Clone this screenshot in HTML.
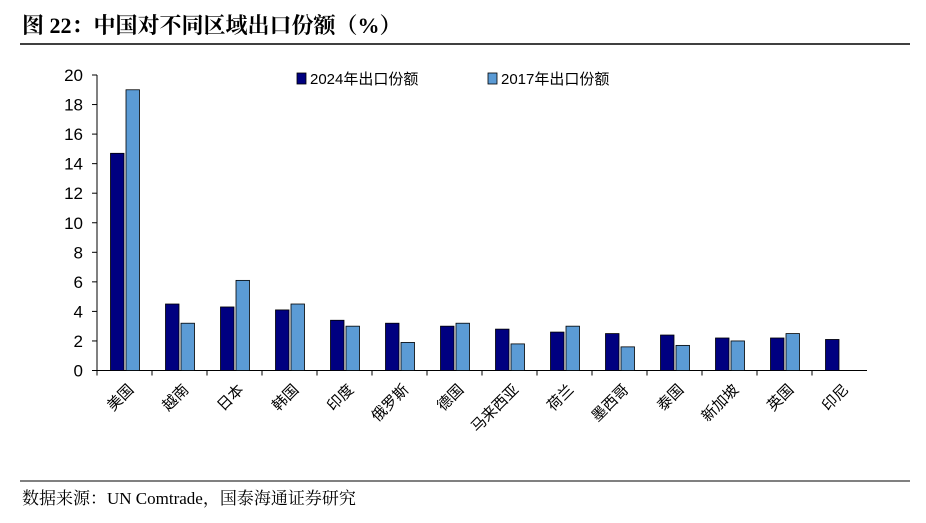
<!DOCTYPE html>
<html><head><meta charset="utf-8"><style>
body{margin:0;background:#fff;width:926px;height:518px;overflow:hidden;font-family:"Liberation Sans","Noto Sans CJK SC",sans-serif}
</style></head><body>
<svg width="926" height="518" viewBox="0 0 926 518" xmlns="http://www.w3.org/2000/svg">
<text x="22" y="33" font-family="'Liberation Serif','Noto Serif CJK SC',serif" font-weight="bold" font-size="22" fill="#000">图 22：中国对不同区域出口份额（%）</text>
<line x1="20" y1="44" x2="910" y2="44" stroke="#000" stroke-width="1.5"/>
<g id="plot"></g>
<g>
<g><rect x="297" y="73" width="9" height="11" fill="#000080" stroke="#000" stroke-width="0.8"/><text x="310" y="84" font-size="15">2024年出口份额</text></g>
<g><rect x="488" y="73" width="9" height="11" fill="#5b9bd5" stroke="#000" stroke-width="0.8"/><text x="501" y="84" font-size="15">2017年出口份额</text></g>
</g>
<line x1="20" y1="481" x2="910" y2="481" stroke="#000" stroke-width="1"/>
<text x="22" y="504" font-family="'Liberation Serif','Noto Serif CJK SC',serif" font-size="17">数据来源：UN Comtrade，国泰海通证券研究</text>
</svg>
<script>
const categories=["美国","越南","日本","韩国","印度","俄罗斯","德国","马来西亚","荷兰","墨西哥","泰国","新加坡","英国","印尼"];
const share2024=[14.7,4.5,4.3,4.1,3.4,3.2,3.0,2.8,2.6,2.5,2.4,2.2,2.2,2.1];
const share2017=[19.0,3.2,6.1,4.5,3.0,1.9,3.2,1.8,3.0,1.6,1.7,2.0,2.5,null];
const yTicks=[0,2,4,6,8,10,12,14,16,18,20];
const NS="http://www.w3.org/2000/svg";
const g=document.getElementById("plot");
const x0=97,slot=55,yB=370.5,yT=75,yMax=20;
const y=v=>yB-(v/yMax)*(yB-yT);
const xs=i=>x0+i*slot;
function el(t,a){const e=document.createElementNS(NS,t);for(const k in a)e.setAttribute(k,a[k]);g.appendChild(e);return e;}
let ax=el("line",{x1:x0,y1:yT,x2:x0,y2:yB,stroke:"#000","stroke-width":1});


yTicks.forEach(t=>{
 const l=el("line",{x1:x0-5,y1:y(t),x2:x0,y2:y(t),stroke:"#000"});
 
 
 const tx=el("text",{x:x0-14,y:y(t)+6,"text-anchor":"end","font-size":17});
 tx.textContent=t;
 
 
});
let xa=el("line",{x1:x0,y1:yB,x2:x0+categories.length*slot,y2:yB,stroke:"#000"});


categories.forEach((c,i)=>{
 const tk=el("line",{x1:xs(i),y1:yB,x2:xs(i),y2:yB+5,stroke:"#000"});
 
 
 const cx=xs(i)+slot/2;
 const b1=el("rect",{x:cx-14,y:y(share2024[i]),width:13.5,height:yB-y(share2024[i]),fill:"#000080",stroke:"#000","stroke-width":0.8});
 
 
 if(share2017[i]!=null){
  const b2=el("rect",{x:cx+1.5,y:y(share2017[i]),width:13.5,height:yB-y(share2017[i]),fill:"#5b9bd5",stroke:"#000","stroke-width":0.8});
  
  
 }
 const tx=el("text",{x:cx+10,y:yB+20,"text-anchor":"end","font-size":15,transform:`rotate(-45 ${cx+10} ${yB+20})`});
 tx.textContent=c;
 
 
});
</script>
</body></html>
